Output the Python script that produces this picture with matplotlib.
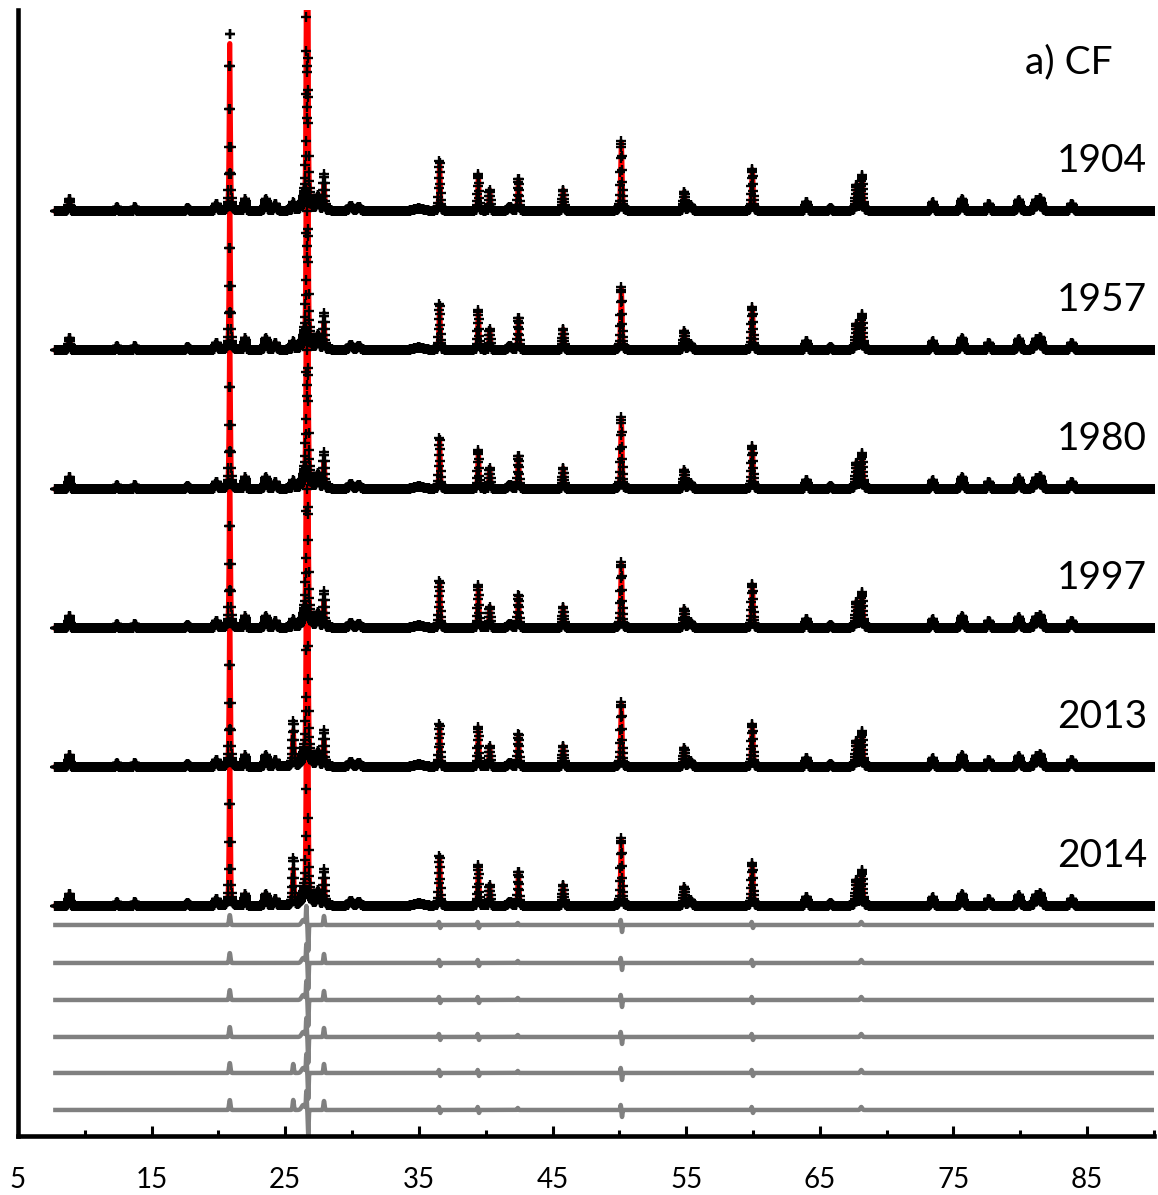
import numpy as np
import matplotlib
matplotlib.use('Agg')
import matplotlib.pyplot as plt
from matplotlib.ticker import MultipleLocator

plt.rcParams['font.family'] = ['Lato', 'DejaVu Sans']

YEARS = ['1904', '1957', '1980', '1997', '2013', '2014']

# diffraction peaks (2theta), their width and height above background
PEAK_POS = [8.85, 12.4, 13.75, 17.7, 19.85, 20.85, 22.0, 23.55, 24.25, 25.6,
            26.64, 27.45, 27.9, 29.9, 30.5, 35.0, 36.55, 39.45, 40.3, 41.8,
            42.45, 45.8, 50.15, 54.85, 55.3, 59.95, 64.0, 65.8, 67.75, 68.15,
            73.45, 75.65, 77.65, 79.9, 81.2, 81.5, 83.85]
PEAK_FWHM = [0.15, 0.15, 0.15, 0.2, 0.2, 0.11, 0.15, 0.2, 0.2, 0.15,
             0.12, 0.2, 0.15, 0.3, 0.3, 0.8, 0.12, 0.12, 0.12, 0.3,
             0.13, 0.14, 0.14, 0.15, 0.3, 0.15, 0.2, 0.2, 0.18, 0.18,
             0.2, 0.22, 0.2, 0.22, 0.25, 0.25, 0.25]
PEAK_HEIGHT = [12, 4, 4, 3, 7, 172, 12, 12, 7, 8,
               560, 15, 27, 5, 4, 2.5, 50, 38, 21, 4,
               32, 21, 70, 19, 6, 42, 9, 3, 26, 33,
               9, 12, 7, 11, 10, 12, 7]

# peaks that change from sample to sample (one value per year)
H_25_6 = [8, 8, 8, 8, 36, 37]
H_36_55 = [50, 46, 51, 47, 43, 50]
H_39_45 = [37, 40, 39, 43, 40, 41]
H_42_45 = [32, 32, 33, 32, 32, 34]
H_50_15 = [70, 63, 72, 66, 65, 68]
H_59_95 = [42, 43, 43, 44, 43, 43]
VARIABLE = {25.6: H_25_6, 36.55: H_36_55, 39.45: H_39_45,
            42.45: H_42_45, 50.15: H_50_15, 59.95: H_59_95}

# observed - calculated residual features
DIFF_POS = [20.85, 26.35, 26.58, 26.72, 27.9, 36.5, 36.6, 39.4, 39.5,
            42.4, 50.1, 50.2, 59.9, 60.0, 68.1]
DIFF_FWHM = [0.12, 0.3, 0.07, 0.07, 0.1, 0.07, 0.07, 0.07, 0.07,
             0.08, 0.07, 0.07, 0.07, 0.07, 0.15]
DIFF_AMP = [10, 5, 18, -26, 9, 3, -3, 3, -3,
            2, 5, -7, 3, -3, 3]
DIFF_25_6 = [0, 0, 0, 0, 9, 10]

OBS_OFFSET = [925, 786, 647, 508, 369, 230]
DIFF_OFFSET = [211, 173, 136, 99, 63, 26]


def pseudoVoigt(x, pos, height, fwhm, eta=0.4):
    d = (x - pos) / fwhm
    g = np.exp(-4 * np.log(2) * d ** 2)
    l = 1.0 / (1.0 + 4 * d ** 2)
    return height * (eta * l + (1 - eta) * g)


def gauss(x, pos, amp, fwhm):
    return amp * np.exp(-4 * np.log(2) * ((x - pos) / fwhm) ** 2)


twoTheta = np.arange(7.8, 90.0, 0.02)

fig = plt.figure(figsize=(11.58, 11.95), dpi=100)
ax = fig.add_axes([0.0155, 0.0494, 0.981, 0.9422])

for i, year in enumerate(YEARS):
    calc = np.zeros_like(twoTheta)
    for pos, fwhm, h in zip(PEAK_POS, PEAK_FWHM, PEAK_HEIGHT):
        if pos in VARIABLE:
            h = VARIABLE[pos][i]
        calc += pseudoVoigt(twoTheta, pos, h, fwhm)
    diff = np.zeros_like(twoTheta)
    for pos, fwhm, a in zip(DIFF_POS, DIFF_FWHM, DIFF_AMP):
        diff += gauss(twoTheta, pos, a, fwhm)
    diff += gauss(twoTheta, 25.6, DIFF_25_6[i], 0.1)
    obs = calc + diff

    ax.plot(twoTheta, OBS_OFFSET[i] + calc, color='red', lw=3.5, zorder=2)
    ax.plot(twoTheta, OBS_OFFSET[i] + obs, ls='none', marker='+', ms=6.5,
            mew=1.7, color='black', zorder=3)
    ax.plot(twoTheta, DIFF_OFFSET[i] + diff, color='#808080', lw=3.2, zorder=1)
    ax.text(89.5, OBS_OFFSET[i] + 50, year, ha='right', va='center', fontsize=28)

ax.text(86.9, 1074, 'a) CF', ha='right', va='center', fontsize=28)

ax.set_xlim(5, 90)
ax.set_ylim(0, 1126)
ax.spines['top'].set_visible(False)
ax.spines['right'].set_visible(False)
ax.spines['left'].set_linewidth(3.3)
ax.spines['bottom'].set_linewidth(3.3)
ax.set_yticks([])
ax.set_xticks(np.arange(5, 90, 10))
ax.xaxis.set_minor_locator(MultipleLocator(10))
ax.tick_params(axis='x', which='major', direction='in', length=7, width=2.2,
               pad=22, labelsize=20)
ax.tick_params(axis='x', which='minor', direction='in', length=4.5, width=2.2)

fig.savefig('out.png', dpi=100)
